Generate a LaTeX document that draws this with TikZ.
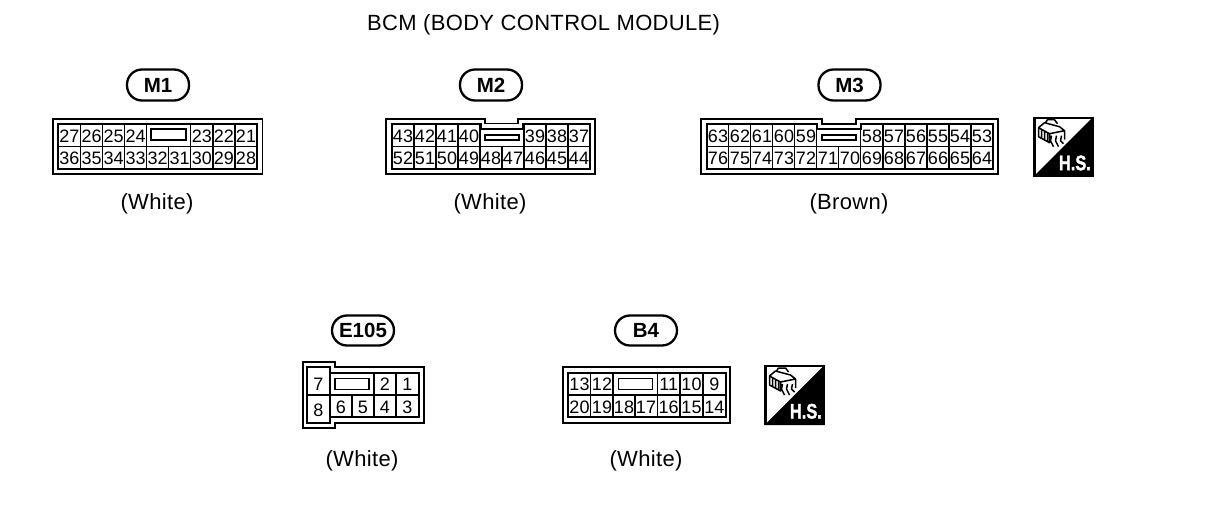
\documentclass[tikz,border=0pt]{standalone}
\usepackage{fontspec}
\setmainfont{Liberation Sans}
\newfontfamily\widefont[LetterSpace=1.5]{Liberation Sans}
\newfontfamily\hsfont[FakeBold=2.2]{Liberation Sans Bold}
\tikzset{
  x=1pt,y=-1pt,
  cellline/.style={line width=1.3pt,black},
  innerline/.style={line width=1.8pt,black},
  outerline/.style={line width=1.9pt,black},
  slotbox/.style={line width=1.6pt,black},
  pin/.style={font=\fontsize{18}{19}\selectfont,inner sep=0pt,text=black,anchor=base},
  tag/.style={draw=black,line width=2.3pt,rounded corners=15pt,minimum width=62pt,minimum height=30pt,inner sep=0pt,font=\fontsize{20.5}{21}\bfseries\selectfont},
  colour/.style={font=\fontsize{22}{23}\widefont,inner sep=0pt},
  title/.style={font=\fontsize{22}{23}\widefont,inner sep=0pt,anchor=base west},
  hsmark/.style={font=\fontsize{21}{22}\hsfont,text=white,inner sep=0pt,xscale=0.78}
}
\newcommand{\hsicon}[3]{%
\begin{scope}[shift={(#1,#2)}]
  \fill[black] (60,0) -- (60,60) -- (0,60) -- cycle;
  \draw[black,line width=2.4pt] (1,1) rectangle (59,59);
  \draw[black,line width=1.5pt,line join=round]
    (5,11) -- (5,20) -- (16,26) -- (16,17) -- cycle
    (5,11) -- (11,6) -- (26,10) -- (31,14) -- (16,17)
    (31,14) -- (31,23)
    (12,6) -- (14,3) -- (21,3) -- (24,7)
    (8,13) -- (8,21) (11,15) -- (11,23) (14,16) -- (14,25)
    (18,19) -- (17,24) -- (20,30) (23,19) -- (22,24) -- (25,30) (28,19) -- (27,24) -- (30,27);
  \node[hsmark,anchor=base east] (#3) at (57.5,53.5) {H.S.};
\end{scope}}
\begin{document}
\begin{tikzpicture}
\useasboundingbox (0,0) rectangle (1216,514);
\node[title] (ttl) at (367,30) {BCM (BODY CONTROL MODULE)};
% M1
\node[tag,minimum height=31pt] (m1) at (158,85) {M1};
\draw[outerline] (52.7,118.7) rectangle (262.5,174.3);
\draw[innerline] (58,124) rectangle (257,168.7);
\draw[cellline] (58,146.7) -- (257,146.7);
\foreach \x in {80.7,102.7,124.7,146.7,190.7,213,235} \draw[cellline] (\x,124) -- (\x,168.7);
\draw[cellline] (168.7,146.7) -- (168.7,168.7);
\draw[slotbox] (151,129) rectangle (186,140);
\foreach \x/\t in {69.3/27,91.7/26,113.7/25,135.7/24,201.8/23,224/22,246/21}
  \node[pin] (p\t) at (\x,142) {\t};
\foreach \x/\t in {69.3/36,91.7/35,113.7/34,135.7/33,157.7/32,179.7/31,201.8/30,224/29,246/28}
  \node[pin] (p\t) at (\x,164) {\t};
\node[colour] (c1) at (157,204) {(White)};
% M2
\node[tag,minimum height=31pt] (m2) at (491,85) {M2};
\draw[outerline] (385.7,118.7) -- (485,118.7) -- (485,123.5) -- (518,123.5) -- (518,118.7) -- (595,118.7) -- (595,174.3) -- (385.7,174.3) -- cycle;
\draw[innerline] (392,124) -- (481,124) -- (481,129.3) -- (523,129.3) -- (523,124) -- (590,124) -- (590,168.7) -- (392,168.7) -- cycle;
\draw[cellline] (392,146.7) -- (590,146.7);
\foreach \x in {414,436,458,480,524,546,568} \draw[cellline] (\x,124) -- (\x,168.7);
\draw[cellline] (502,146.7) -- (502,168.7);
\draw[slotbox] (485,135) rectangle (519,140);
\foreach \x/\t in {403/43,425/42,447/41,469/40,535/39,557/38,579/37}
  \node[pin] (p\t) at (\x,142) {\t};
\foreach \x/\t in {403/52,425/51,447/50,469/49,491/48,513/47,535/46,557/45,579/44}
  \node[pin] (p\t) at (\x,164) {\t};
\node[colour] (c2) at (490,204) {(White)};
% M3
\node[tag,minimum height=31pt] (m3) at (849.5,85) {M3};
\draw[outerline] (700.7,118.7) -- (821.7,118.7) -- (821.7,124) -- (855.7,124) -- (855.7,118.7) -- (998,118.7) -- (998,174.3) -- (700.7,174.3) -- cycle;
\draw[innerline] (707,124) -- (816.7,124) -- (816.7,129.3) -- (860.7,129.3) -- (860.7,124) -- (993,124) -- (993,168.7) -- (707,168.7) -- cycle;
\draw[cellline] (707,146.7) -- (993,146.7);
\foreach \x in {728.7,750.7,772.7,794.7,816.7,860.7,883,905,927,949} \draw[cellline] (\x,124) -- (\x,168.7);
\draw[innerline] (971,124) -- (971,168.7);
\draw[cellline] (838.7,146.7) -- (838.7,168.7);
\draw[slotbox] (821.7,135) rectangle (855.7,140);
\foreach \x/\t in {718/63,740/62,762/61,784/60,806/59,872/58,894/57,916/56,938/55,960/54,982/53}
  \node[pin] (p\t) at (\x,142) {\t};
\foreach \x/\t in {718/76,740/75,762/74,784/73,806/72,828/71,850/70,872/69,894/68,916/67,938/66,960/65,982/64}
  \node[pin] (p\t) at (\x,164) {\t};
\node[colour] (c3) at (849,204) {(Brown)};
\hsicon{1033.5}{116.7}{hs1}
% E105
\node[tag] (e105) at (363,330.5) {E105};
\draw[outerline] (302.7,361.7) -- (335,361.7) -- (335,366.7) -- (424.3,366.7) -- (424.3,423.3) -- (335,423.3) -- (335,428.3) -- (302.7,428.3) -- cycle;
\draw[innerline] (307.3,366.7) -- (330,366.7) -- (330,372.7) -- (419.3,372.7) -- (419.3,417.3) -- (330,417.3) -- (330,423.3) -- (307.3,423.3) -- cycle;
\draw[cellline] (307.3,395) -- (419.3,395);
\draw[cellline] (330,372.7) -- (330,417.3);
\foreach \x in {374,396} \draw[cellline] (\x,372.7) -- (\x,417.3);
\draw[cellline] (352,395) -- (352,417.3);
\draw[slotbox] (335,378.3) rectangle (369,389.3);
\node[pin] (p7) at (318.5,390) {7};
\node[pin] (p8) at (318.5,416.5) {8};
\foreach \x/\t in {385/2,407.5/1}
  \node[pin] (p\t) at (\x,390) {\t};
\foreach \x/\t in {341/6,363/5,385/4,407.5/3}
  \node[pin] (p\t) at (\x,413) {\t};
\node[colour] (c4) at (362,460.5) {(White)};
% B4
\node[tag] (b4) at (646,330.5) {B4};
\draw[outerline] (563.3,366.7) rectangle (730,422.7);
\draw[innerline] (568.3,372.7) rectangle (725.7,417.3);
\draw[cellline] (568.3,395) -- (725.7,395);
\foreach \x in {590.8,613,657.5,680,703} \draw[cellline] (\x,372.7) -- (\x,417.3);
\draw[cellline] (635,395) -- (635,417.3);
\draw[slotbox] (618.3,378.3) rectangle (652.3,389.3);
\foreach \x/\t in {579.5/13,602/12,668.7/11,691.5/10,714.3/9}
  \node[pin] (p\t) at (\x,390) {\t};
\foreach \x/\t in {579.5/20,602/19,624/18,646/17,668.7/16,691.5/15,714.3/14}
  \node[pin] (p\t) at (\x,413) {\t};
\node[colour] (c5) at (646,460.5) {(White)};
\hsicon{764.5}{365}{hs2}
\end{tikzpicture}
\end{document}
